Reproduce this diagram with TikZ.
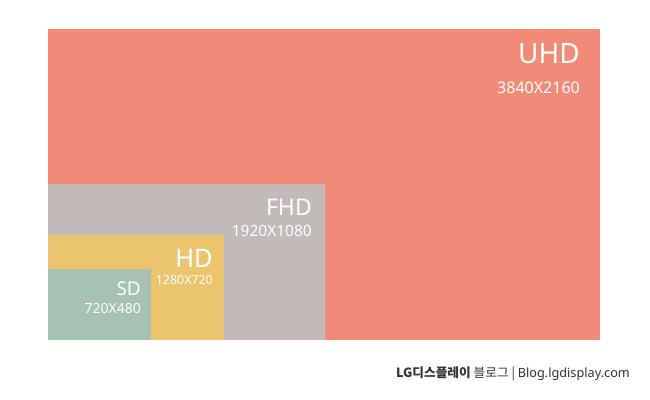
\documentclass[tikz,border=0pt]{standalone}
\usepackage{fontspec}
\setmainfont{Noto Sans}
\newfontfamily\kr{Noto Sans CJK KR}
\definecolor{uhdc}{HTML}{F28A78}
\definecolor{fhdc}{HTML}{C2BAB9}
\definecolor{hdc}{HTML}{EDC46E}
\definecolor{sdc}{HTML}{A6C2B3}
\definecolor{txtc}{HTML}{333333}
\begin{document}
\begin{tikzpicture}[x=1pt,y=-1pt,
  big/.style={anchor=base east,text=white,inner sep=0pt},
  small/.style={anchor=base east,text=white,inner sep=0pt}]
\useasboundingbox (0,0) rectangle (650,399);
\fill[white] (0,0) rectangle (650,399);
\fill[uhdc] (48,29) rectangle (600,340);
\fill[fhdc] (48,184) rectangle (325,340);
\fill[hdc] (48,235) rectangle (224,340);
\fill[sdc] (48,269) rectangle (151,340);
\node[big,font=\fontsize{28}{28}\selectfont] (uhd) at (580,63) {UHD};
\node[small,font=\fontsize{16}{16}\selectfont] (uhdr) at (580,93) {3840X2160};
\node[big,font=\fontsize{23}{23}\selectfont] (fhd) at (312,215) {FHD};
\node[small,font=\fontsize{15.5}{15.5}\selectfont] (fhdr) at (312,236) {1920X1080};
\node[big,font=\fontsize{25.5}{25.5}\selectfont] (hd) at (213,267) {HD};
\node[small,font=\fontsize{12.4}{12.4}\selectfont] (hdr) at (213,284) {1280X720};
\node[big,font=\fontsize{19}{19}\selectfont] (sd) at (141,295) {SD};
\node[small,font=\fontsize{14}{14}\selectfont] (sdr) at (141,313) {720X480};
\node[anchor=base east,inner sep=0pt,text=txtc,font=\fontsize{12.7}{12.7}\selectfont] (credit) at (630,377) {\kr\textbf{LG디스플레이} 블로그 | \rmfamily Blog.lgdisplay.com};
\end{tikzpicture}
\end{document}
